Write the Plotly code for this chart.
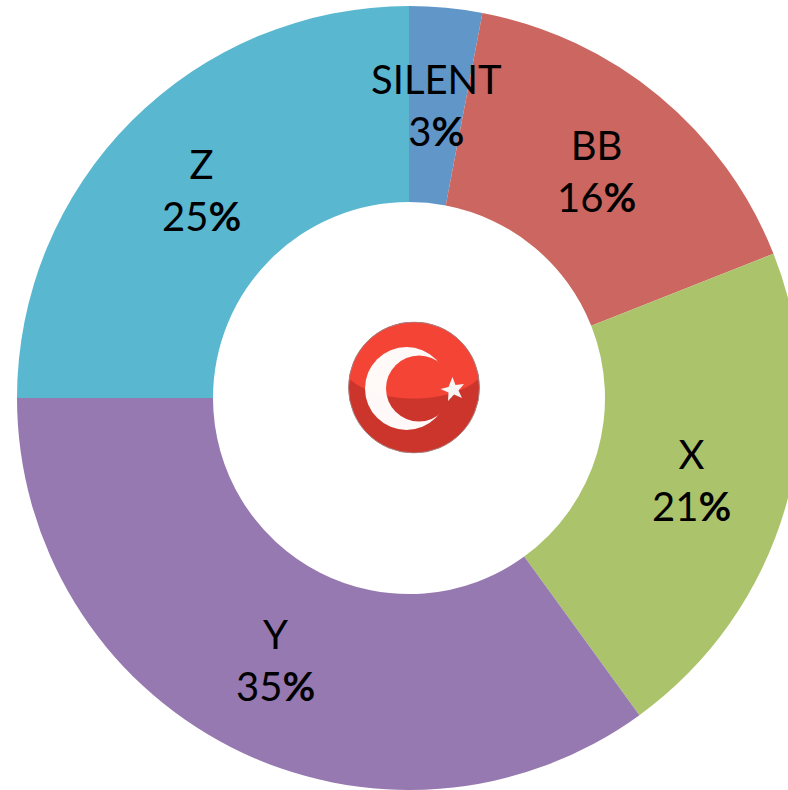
import base64
import plotly.graph_objects as go

categories = ["SILENT", "BB", "X", "Y", "Z"]
values = [3, 16, 21, 35, 25]
colors = ["#6096C8", "#CC6660", "#ABC46C", "#9579B0", "#5AB7D0"]

import math

fig = go.Figure(go.Pie(
    labels=categories, values=values, hole=0.5, sort=False, direction="clockwise", rotation=0,
    marker=dict(colors=colors, line=dict(width=0)), textinfo="none", hoverinfo="label+percent",
    domain=dict(x=[0, 1], y=[0, 1]), showlegend=False,
))

total = sum(values)
cum = 0
annotations = []
for c, v in zip(categories, values):
    th = 2 * math.pi * (cum + v / 2) / total
    cum += v
    annotations.append(dict(
        x=0.5 + 0.375 * math.sin(th), y=0.5 + 0.375 * math.cos(th), xref="paper", yref="paper",
        text=f"{c}<br>{round(100 * v / total)}<b>%</b>", showarrow=False, xanchor="center", yanchor="middle",
        font=dict(family="Lato, sans-serif", size=40, color="#000000"),
    ))

flag_svg = '''<svg xmlns="http://www.w3.org/2000/svg" width="132" height="132" viewBox="0 0 132 132">
<defs><clipPath id="c"><circle cx="66" cy="66" r="65.5"/></clipPath>
<mask id="m"><rect width="132" height="132" fill="black"/><circle cx="58.5" cy="67" r="41.5" fill="white"/><circle cx="71" cy="67" r="33" fill="black"/></mask></defs>
<g clip-path="url(#c)">
<rect width="132" height="132" fill="#CC352B"/>
<path d="M0 0H132V56C118 70 92 77 66 77C40 77 14 70 0 56Z" fill="#F44436"/>
<rect y="0" width="132" height="132" fill="white" mask="url(#m)" opacity="0.97"/>
<polygon fill="#F8F4F4" points="104.5,55.5 107.5,63.5 116,62.5 110.5,69 114,76.5 106,73 100,79.5 100.5,71 92.5,67.5 100.5,65.5"/>
</g><circle cx="66" cy="66" r="65.5" fill="none" stroke="#A88080" stroke-width="1"/></svg>'''
flag_src = "data:image/svg+xml;base64," + base64.b64encode(flag_svg.encode()).decode()

fig.update_layout(
    width=802, height=790, margin=dict(l=17, r=1, t=6, b=0), autosize=False,
    paper_bgcolor="white", plot_bgcolor="white", annotations=annotations,
    images=[dict(source=flag_src, xref="paper", yref="paper", x=(348 - 17) / 784, y=1 - (321.5 - 6) / 784,
                 sizex=132 / 784, sizey=132 / 784, xanchor="left", yanchor="top", sizing="stretch", layer="above")],
)
fig.write_html("out.html", config=dict(displayModeBar=False),
               post_script="document.body.style.margin='0';document.documentElement.style.overflow='hidden';document.body.style.overflow='hidden';")
